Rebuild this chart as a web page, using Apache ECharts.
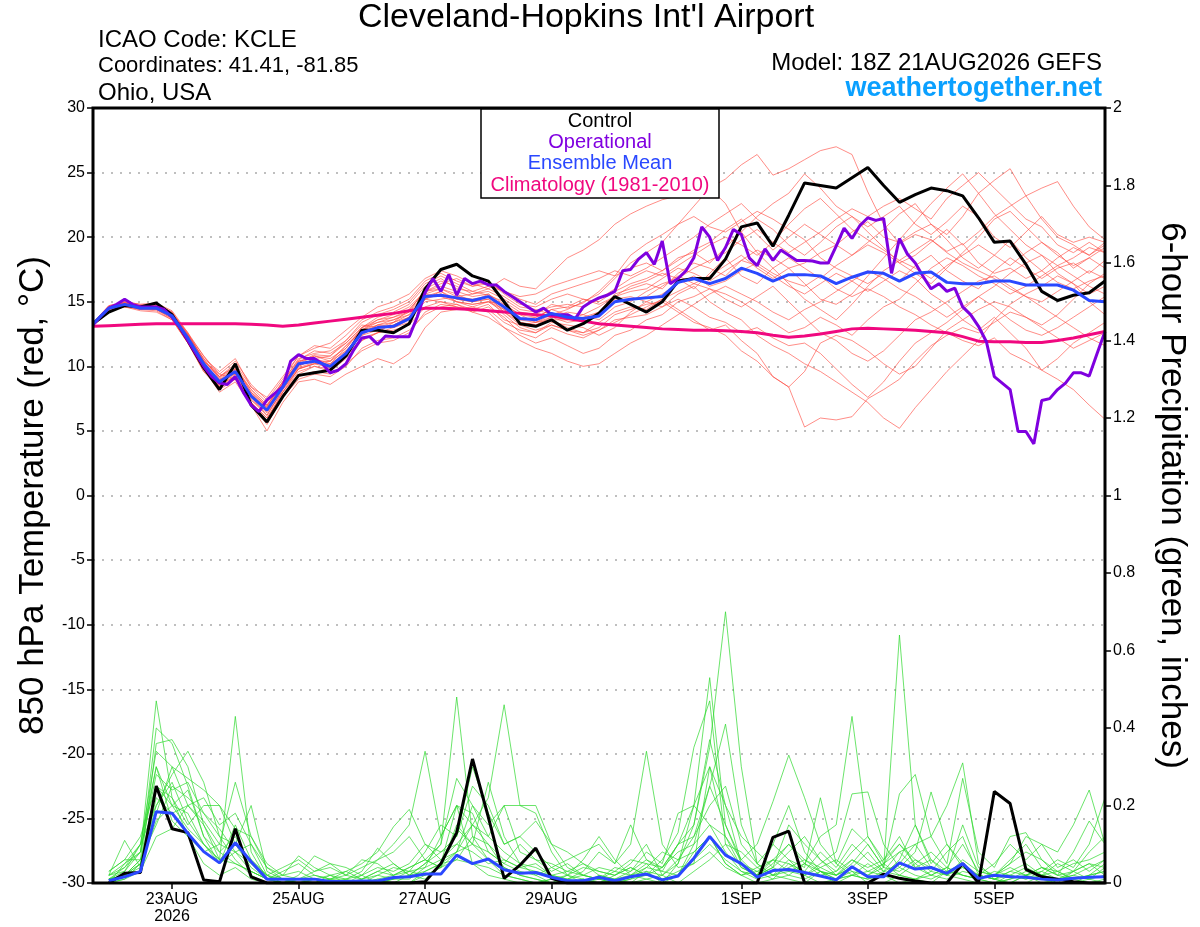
<!DOCTYPE html>
<html><head><meta charset="utf-8">
<script src="https://cdn.jsdelivr.net/npm/echarts@6/dist/echarts.min.js"></script>
<style>html,body{margin:0;padding:0;background:#fff;overflow:hidden}#c{width:1200px;height:927px}</style>
</head><body><div id="c"></div>
<script>
// x axis: forecast hour from 18Z 21AUG2026 (0..384)
const tickHours = [30, 78, 126, 174, 246, 294, 342];
const tickLabels = ['23AUG\n2026', '25AUG', '27AUG', '29AUG', '1SEP', '3SEP', '5SEP'];

// 6-hourly temperatures (hour 0..384)
const controlTemp = [13.3,14.2,14.7,14.6,14.9,14.0,12.0,9.9,8.2,10.2,7.0,5.7,7.65,9.3,9.5,9.7,10.8,12.8,12.8,12.6,13.3,16.0,17.5,17.9,17.0,16.6,15.0,13.3,13.1,13.6,12.8,13.3,14.1,15.4,14.8,14.2,15.0,16.6,16.8,16.8,18.3,20.8,21.1,19.3,21.7,24.2,24.0,23.8,24.6,25.4,24.0,22.7,23.3,23.8,23.6,23.2,21.5,19.6,19.7,17.9,15.8,15.1,15.5,15.7,16.6];
const meanTemp = [13.3,14.5,14.8,14.5,14.5,13.9,12.2,10.2,8.8,9.6,7.7,6.6,8.4,10.2,10.4,10.0,11.0,12.6,13.0,13.1,13.7,15.4,15.5,15.3,15.1,15.4,14.6,13.7,13.6,14.1,13.8,13.7,13.9,15.0,15.2,15.3,15.4,16.5,16.8,16.4,16.8,17.6,17.2,16.6,17.1,17.1,17.0,16.4,16.9,17.3,17.2,16.6,17.2,17.3,16.5,16.4,16.4,16.6,16.6,16.3,16.3,16.3,15.9,15.1,15.0];
const climoTemp = [13.1,13.15,13.2,13.25,13.3,13.3,13.3,13.3,13.3,13.3,13.25,13.2,13.1,13.2,13.35,13.5,13.65,13.8,13.95,14.1,14.3,14.5,14.5,14.45,14.4,14.3,14.2,14.1,14.0,13.9,13.7,13.5,13.3,13.2,13.1,13.0,12.9,12.85,12.8,12.8,12.75,12.7,12.6,12.4,12.25,12.35,12.5,12.7,12.9,12.95,12.9,12.85,12.8,12.7,12.6,12.3,11.95,11.9,11.9,11.85,11.85,12.0,12.2,12.45,12.7];
// 3-hourly operational temperature (hour 0..384)
const operTemp = [13.2,13.9,14.5,14.8,15.2,14.8,14.6,14.6,14.6,14.4,13.8,13.0,12.0,11.0,10.0,9.2,8.7,8.6,9.2,8.0,7.0,6.5,7.4,7.9,8.4,10.4,10.9,10.6,10.6,10.2,9.5,9.7,10.2,11.3,12.2,12.3,11.7,12.35,12.3,12.3,12.3,13.8,15.7,16.8,15.8,17.1,15.5,16.8,16.4,16.6,16.3,16.3,15.8,15.4,15.0,14.6,14.2,14.5,14.0,14.0,14.0,13.7,14.6,15.0,15.3,15.5,15.8,17.4,17.5,18.3,18.8,17.9,19.7,16.4,16.8,17.4,18.4,20.8,20.0,18.2,19.2,20.6,20.2,18.4,17.8,19.1,18.2,19.0,18.6,18.2,18.2,18.15,18.0,18.0,19.3,20.7,19.9,20.9,21.5,21.3,21.45,17.2,19.9,18.7,18.0,16.95,16.0,16.4,15.8,16.05,14.6,14.0,13.1,11.9,9.2,8.7,8.2,4.95,4.95,4.0,7.35,7.5,8.2,8.7,9.5,9.5,9.25,11.0,12.7];

// ensemble member temperatures (6-hourly, hour 0..384)
const memT01 = [13.4,14.6,14.9,14.7,14.8,14.2,12.5,10.8,9.2,10.0,8.0,6.9,8.8,10.5,11.2,11.0,11.8,13.0,13.8,14.2,14.8,16.2,16.8,16.0,15.8,15.5,15.0,14.2,14.0,14.8,14.5,14.9,15.8,17.0,18.6,19.5,20.2,21.0,22.4,23.8,24.5,25.6,26.4,24.8,25.3,26.0,26.7,27.0,26.4,23.5,21.0,19.5,20.2,19.8,18.9,19.5,18.0,17.2,17.6,16.8,17.4,16.5,16.0,16.6,17.0];
const memT02 = [13.2,14.3,14.6,14.4,14.3,13.6,11.8,9.8,8.0,8.8,7.0,5.5,7.6,9.0,9.4,9.2,10.0,11.4,12.0,12.2,12.8,14.0,14.6,14.8,14.2,14.6,13.8,12.6,12.2,13.0,12.5,12.2,12.8,13.4,14.0,14.6,15.2,14.4,13.6,12.8,13.2,12.0,11.0,9.2,8.4,5.3,6.0,5.85,6.1,7.5,8.2,9.0,10.4,11.6,12.4,13.0,12.6,13.4,14.2,13.8,13.0,12.2,11.4,12.0,12.6];
const memT03 = [13.3,14.7,15.0,14.6,14.6,13.8,12.0,10.4,9.4,9.0,7.6,6.2,8.2,9.8,10.2,10.4,11.6,12.8,13.4,13.6,14.0,15.6,16.0,15.6,15.0,15.2,14.0,13.0,12.6,13.4,13.2,13.0,12.4,13.0,14.2,15.0,14.6,15.6,16.2,15.0,14.2,13.6,12.4,11.6,11.0,10.2,9.6,8.8,8.0,7.2,6.0,5.2,6.8,8.2,9.6,10.8,12.0,13.6,14.8,15.6,16.2,17.0,16.4,15.0,14.0];
const memT04 = [13.2,14.4,14.7,14.5,14.4,14.0,12.4,10.6,9.0,9.8,8.2,7.0,8.6,10.4,10.8,10.4,11.2,12.4,12.8,13.2,13.8,15.0,15.2,15.4,15.6,16.0,15.4,14.6,14.4,14.0,13.6,13.8,14.2,15.6,16.0,16.4,16.0,17.2,18.0,17.6,17.0,18.2,19.0,18.4,17.6,18.0,18.8,19.4,18.6,19.6,20.6,21.8,22.6,21.0,20.2,21.6,23.4,24.4,25.3,23.2,21.4,20.0,19.4,18.6,19.6];
const memT05 = [13.4,14.5,14.8,14.6,14.5,13.9,12.2,10.0,8.6,9.4,7.4,6.4,8.0,9.6,10.0,9.8,10.8,12.2,12.6,13.0,13.4,15.2,15.8,15.0,14.6,15.0,14.8,14.0,13.4,13.8,14.2,14.0,13.6,14.6,15.0,15.8,16.4,16.8,16.0,17.2,18.4,17.0,16.4,17.6,18.4,17.6,16.8,17.8,18.6,19.4,18.8,18.0,18.6,19.6,20.6,19.4,20.4,21.6,22.4,23.2,23.8,24.3,22.4,20.8,19.8];
const memT06 = [13.3,14.6,14.9,14.6,14.7,14.0,12.0,10.2,8.8,9.6,7.8,6.8,8.4,10.0,10.6,10.0,11.0,12.6,13.2,13.0,13.6,15.4,15.6,15.2,15.0,15.6,14.6,13.6,13.8,14.4,14.0,13.4,14.0,15.2,15.4,15.0,15.6,16.4,17.0,16.2,16.6,17.4,18.0,17.2,16.6,16.2,17.0,16.0,15.4,16.0,15.4,14.6,14.0,13.2,12.6,12.0,11.6,12.2,11.0,10.4,9.7,9.0,8.2,7.0,5.9];
const memT07 = [13.2,14.5,15.0,14.8,14.9,14.3,12.6,10.4,8.4,9.2,7.2,5.8,8.0,9.4,10.0,9.6,10.6,12.0,12.6,13.4,14.4,15.8,16.4,16.8,16.2,16.4,15.8,15.4,15.6,16.2,16.6,17.0,17.4,17.0,17.6,18.0,17.4,18.2,19.0,19.6,20.6,21.4,20.2,19.0,20.0,21.0,20.2,19.4,20.4,21.2,20.0,19.6,20.4,21.0,19.8,18.4,17.6,18.6,19.8,18.4,17.4,18.4,19.2,18.6,19.4];
const memT08 = [13.3,14.4,14.6,14.3,14.2,13.6,11.8,9.6,8.2,9.0,7.0,5.0,7.2,8.8,9.0,8.6,9.4,10.0,10.6,10.2,11.0,13.0,14.2,14.4,14.6,14.2,13.0,12.4,11.8,12.2,11.6,11.0,11.4,12.4,12.8,13.6,14.0,15.0,15.4,16.0,15.6,15.0,14.2,13.4,12.6,13.0,13.8,13.2,12.4,13.6,14.6,15.2,16.4,17.6,18.4,17.8,17.0,16.4,15.6,16.2,17.0,17.8,18.4,19.2,18.8];
const memT09 = [13.3,14.6,14.8,14.5,14.5,13.8,12.2,10.0,8.8,9.8,7.8,6.6,8.6,10.4,10.6,10.2,11.4,13.0,13.6,13.8,14.2,15.6,15.4,15.0,14.8,15.0,14.4,13.6,13.4,14.0,14.4,15.0,15.6,16.8,18.0,18.8,19.6,21.0,21.6,20.8,20.4,21.2,22.0,21.4,20.6,19.8,18.4,17.6,17.0,16.4,17.2,16.6,17.8,18.6,17.4,16.6,16.0,17.4,18.4,17.6,16.8,17.6,18.0,17.2,18.2];
const memT10 = [13.4,14.5,14.7,14.4,14.6,14.1,12.4,10.2,9.0,9.4,7.6,6.6,8.4,10.0,10.6,10.8,12.0,13.2,13.0,13.4,13.8,15.2,15.0,14.6,14.4,14.8,13.6,13.2,13.4,13.6,13.0,12.6,13.0,14.0,14.4,14.8,15.0,14.2,13.4,13.0,12.4,11.2,10.4,9.2,8.4,9.6,11.8,12.4,12.0,11.2,10.2,9.4,10.0,11.4,12.8,13.6,14.4,15.0,14.6,13.8,13.2,14.0,15.2,16.4,17.2];
const memT11 = [13.2,14.6,15.0,14.8,14.8,14.2,12.4,10.6,9.6,10.6,8.4,7.6,9.2,10.8,11.6,11.4,12.4,13.6,14.2,14.6,15.2,16.6,17.2,16.6,16.2,16.6,15.6,14.8,14.6,15.2,15.6,15.2,15.0,15.8,16.4,16.8,17.4,18.4,18.8,18.0,19.2,20.4,21.6,22.6,23.4,24.9,23.8,22.4,21.6,20.8,21.6,22.4,21.0,20.2,21.2,22.4,21.6,20.0,19.2,20.4,21.6,20.2,19.6,20.0,19.6];
const memT12 = [13.3,14.5,14.8,14.5,14.4,13.7,11.8,9.6,8.6,9.2,7.2,6.0,8.0,9.8,10.2,10.2,11.0,12.4,13.2,13.4,14.0,15.4,15.8,15.2,15.0,15.2,14.4,13.4,13.2,13.8,13.4,13.6,14.2,15.0,15.2,15.4,16.2,17.0,16.4,17.0,17.8,18.6,17.6,16.8,17.6,16.4,15.2,14.8,15.6,17.0,18.4,19.8,21.2,22.6,23.8,24.9,23.4,21.8,20.6,19.4,18.6,17.2,16.4,15.6,16.2];
const memT13 = [13.4,14.7,14.9,14.6,14.7,14.0,12.2,10.4,9.2,10.2,8.4,7.2,8.8,10.2,10.8,10.6,11.4,12.8,13.6,14.0,14.6,15.8,16.0,15.4,15.2,15.4,14.2,13.2,12.8,13.2,12.8,12.4,12.8,13.6,13.8,14.0,14.6,15.2,14.6,13.8,13.4,12.6,13.0,12.2,11.6,11.8,11.0,9.8,8.6,7.6,8.8,10.4,11.8,12.6,13.4,14.4,15.4,14.6,13.6,12.8,12.4,13.0,13.8,14.6,15.4];
const memT14 = [13.3,14.5,14.9,14.7,14.6,14.0,12.3,10.1,8.9,9.7,7.9,6.8,8.6,10.2,10.4,10.4,11.6,12.8,13.2,13.6,14.2,16.0,16.6,16.2,15.6,15.8,15.2,14.4,14.2,14.6,14.8,14.6,15.2,16.0,16.8,17.4,17.0,17.8,18.6,19.4,20.0,19.4,18.6,19.6,21.0,22.2,23.0,21.8,20.6,19.8,19.0,18.2,19.0,19.8,18.8,18.0,17.4,16.8,16.0,15.4,15.0,15.8,16.6,17.4,16.8];
const memT15 = [13.3,14.6,14.9,14.6,14.6,14.1,12.6,10.8,9.4,10.4,8.6,7.4,9.0,10.8,11.4,11.8,12.8,13.8,14.6,15.0,15.6,16.8,17.4,17.0,16.4,16.0,16.8,16.2,16.0,17.2,18.4,19.0,19.8,21.0,21.8,22.4,22.9,23.2,23.6,23.8,22.6,20.4,18.8,17.6,16.4,15.2,14.4,13.6,14.8,16.2,17.4,18.2,17.6,16.8,17.8,18.6,19.4,18.6,17.8,18.8,19.6,18.8,17.6,18.4,19.2];
const memT16 = [13.2,14.4,14.7,14.4,14.4,13.7,11.9,9.8,8.4,9.0,7.2,6.0,7.8,9.2,9.6,9.4,10.2,11.2,11.8,12.0,12.6,14.2,14.8,14.6,14.2,13.8,13.0,12.0,11.4,11.0,10.4,10.0,10.2,11.0,11.8,12.4,13.2,14.0,14.8,15.6,16.2,15.6,15.0,14.2,13.6,14.4,15.0,15.8,16.6,17.4,16.8,16.0,15.4,14.6,13.8,14.6,15.4,16.2,17.2,18.0,18.6,17.8,17.0,16.2,15.6];
const memT17 = [13.3,14.6,14.8,14.6,14.6,14.0,12.4,10.4,9.2,10.0,8.2,7.0,8.8,10.6,11.0,11.2,12.0,13.4,14.0,14.4,15.0,16.4,17.0,16.4,15.8,16.2,15.8,15.2,14.8,15.6,16.0,16.4,16.8,17.4,17.0,17.6,18.4,19.2,20.0,21.0,21.8,22.6,21.4,20.6,19.4,18.6,19.6,20.8,21.6,20.4,19.2,18.0,17.2,16.4,17.6,18.8,20.0,21.4,22.0,20.8,19.6,18.6,17.8,18.4,17.6];
const memT18 = [13.3,14.5,14.8,14.5,14.5,13.8,12.0,9.9,8.5,9.3,7.4,6.2,8.2,9.8,10.2,9.9,10.8,12.0,12.6,12.8,13.2,14.6,15.0,14.8,14.4,14.4,13.4,12.8,12.6,13.2,12.8,12.6,13.4,14.2,14.6,14.4,15.2,15.8,16.4,16.0,15.2,14.6,15.4,16.2,15.0,13.8,12.6,12.0,11.0,10.4,11.2,12.4,13.6,14.2,15.0,15.8,16.6,17.0,16.2,15.4,14.6,13.8,13.0,12.2,11.6];
const memT19 = [13.4,14.6,14.9,14.7,14.7,14.1,12.5,10.5,9.1,9.9,8.0,6.9,8.7,10.3,10.9,10.8,11.8,13.0,13.4,13.8,14.4,15.8,16.2,15.8,15.4,15.6,14.8,14.0,13.8,14.4,14.6,15.2,14.8,15.4,16.2,16.6,17.2,16.8,17.6,18.2,18.8,19.8,20.6,19.6,18.8,19.6,20.4,21.4,22.2,21.6,22.4,23.0,22.2,21.4,23.0,24.0,25.0,23.8,22.6,21.4,20.8,19.4,18.8,19.6,18.8];
const memT20 = [13.2,14.5,14.8,14.5,14.5,13.9,12.1,10.0,8.7,9.5,7.6,6.5,8.3,9.9,10.3,10.1,11.2,12.6,13.0,13.2,13.8,15.2,15.6,15.0,14.8,15.0,14.2,13.4,13.2,13.6,13.6,14.0,14.6,15.4,15.8,16.0,16.8,17.6,17.2,16.6,17.4,18.2,17.8,17.0,16.2,15.6,16.4,17.2,16.6,15.8,16.6,17.4,16.8,15.6,14.8,13.6,12.8,13.8,12.6,11.4,9.7,10.6,11.8,12.6,13.4];

// 6-hour precipitation (inches), hours 6..384
const controlPrecip = [0.0,0.025,0.027,0.25,0.14,0.13,0.008,0.003,0.14,0.016,0,0,0,0,0,0,0,0,0,0,0.003,0.05,0.13,0.32,0.17,0.012,0.046,0.09,0.012,0,0,0,0,0,0,0,0,0,0,0,0,0,0.118,0.134,0,0,0,0,0,0.023,0.012,0.005,0,0,0.05,0,0.236,0.205,0.035,0.016,0.01,0.003,0,0];
const meanPrecip = [0.006,0.016,0.03,0.184,0.18,0.128,0.081,0.052,0.104,0.055,0.01,0.01,0.01,0.01,0.004,0.004,0.005,0.005,0.014,0.016,0.023,0.023,0.072,0.05,0.062,0.034,0.025,0.027,0.015,0.006,0.006,0.015,0.006,0.016,0.023,0.008,0.018,0.064,0.12,0.072,0.05,0.015,0.032,0.035,0.027,0.018,0.008,0.042,0.016,0.016,0.052,0.036,0.04,0.025,0.05,0.012,0.02,0.016,0.015,0.01,0.008,0.012,0.015,0.016];
const memP01 = [0.01,0.03,0.08,0.47,0.22,0.12,0.05,0.02, 0.04,0.01,0,0,0.01,0,0,0, 0,0.01,0.02,0.04,0.06,0.1,0.48,0.12, 0.06,0.02,0.01,0,0,0,0.01,0, 0,0.02,0.05,0.01,0.02,0.08,0.12,0.05, 0.02,0,0.01,0.05,0.02,0,0.01,0.03, 0,0,0.02,0.01,0,0.03,0.05,0, 0,0.01,0.03,0.02,0,0,0.01,0.02];
const memP02 = [0,0.02,0.06,0.40,0.36,0.25,0.12,0.05, 0.08,0.03,0.01,0,0,0,0.02,0, 0,0,0,0,0.03,0.05,0.08,0.15, 0.1,0.04,0.02,0.01,0,0,0,0.02, 0.01,0,0.03,0,0.05,0.15,0.35,0.70, 0.30,0.05,0.02,0.01,0,0.03,0,0.02, 0.05,0.02,0,0.01,0.03,0.02,0.01,0, 0,0,0.02,0.01,0,0.03,0.05,0.02];
const memP03 = [0.02,0.05,0.1,0.3,0.2,0.18,0.1,0.06, 0.43,0.08,0.01,0,0,0.01,0,0, 0,0,0.01,0.02,0.05,0.08,0.1,0.15, 0.22,0.46,0.2,0.18,0.08,0.02,0,0.01, 0,0,0.01,0.02,0,0.03,0.06,0.1, 0.04,0.02,0.05,0.1,0.06,0.03,0.02,0.05, 0.1,0.04,0.64,0.15,0.06,0.02,0.05,0.01, 0,0.02,0.04,0.02,0.01,0,0.02,0.03];
const memP04 = [0,0.01,0.05,0.2,0.28,0.34,0.26,0.12, 0.06,0.02,0,0,0,0,0.01,0.02, 0.04,0.06,0.1,0.15,0.34,0.12,0.2,0.05, 0.02,0.01,0,0,0.01,0.02,0.04,0.03, 0.02,0.05,0.1,0.02,0.05,0.2,0.53,0.15, 0.05,0.02,0.1,0.2,0.08,0.03,0.01,0.02, 0.03,0.05,0.08,0.04,0.02,0.01,0.03,0.02, 0.01,0,0,0.02,0.05,0.03,0.01,0];
const memP05 = [0.03,0.06,0.12,0.25,0.22,0.15,0.2,0.2, 0.1,0.2,0.03,0.01,0,0,0,0.01, 0.02,0,0,0,0.02,0.04,0.15,0.1, 0.26,0.12,0.05,0.02,0,0.01,0.02,0.01, 0,0.01,0.02,0.04,0.1,0.12,0.2,0.25, 0.1,0.05,0.02,0.03,0.05,0.12,0.15,0.43, 0.12,0.05,0.02,0.01,0.02,0.04,0.02,0.01, 0.02,0.05,0.12,0.1,0.08,0.15,0.24,0.1];
const memP06 = [0.01,0.04,0.1,0.34,0.3,0.2,0.15,0.08, 0.12,0.05,0.02,0,0.02,0.07,0.05,0.02, 0.01,0.03,0.05,0.02,0.05,0.1,0.27,0.2, 0.12,0.08,0.05,0.04,0.02,0.01,0.03,0.08, 0.05,0.1,0.34,0.1,0.04,0.05,0.3,0.12, 0.06,0.1,0.21,0.33,0.22,0.1,0.05,0.02, 0.01,0.03,0.05,0.1,0.12,0.2,0.31,0.05, 0.01,0,0.02,0.04,0.03,0.01,0,0.01];
const memP07 = [0.02,0.11,0.04,0.22,0.18,0.2,0.22,0.15, 0.18,0.1,0.04,0.01,0,0,0.01,0.03, 0.05,0.08,0.145,0.19,0.1,0.06,0.08,0.2, 0.15,0.2,0.2,0.2,0.1,0.04,0.02,0.01, 0.03,0.02,0.01,0,0.02,0.1,0.25,0.41, 0.15,0.05,0.1,0.06,0.02,0.05,0.08,0.23, 0.235,0.1,0.04,0.08,0.235,0.1,0.05,0.02, 0.01,0.02,0.01,0.03,0.06,0.04,0.1,0.22];
const memP08 = [0.01,0.02,0.06,0.15,0.25,0.22,0.18,0.14, 0.08,0.05,0.01,0.03,0.05,0.02,0.01,0.01, 0,0.02,0.01,0.03,0.08,0.15,0.12,0.3, 0.18,0.1,0.12,0.16,0.1,0.08,0.05,0.03, 0.02,0.04,0.02,0.06,0.13,0.35,0.47,0.1, 0.08,0.04,0.02,0.06,0.04,0.22,0.05,0.14, 0.1,0.04,0.23,0.28,0.12,0.05,0.27,0.08, 0.04,0.12,0.13,0.06,0.02,0.01,0.02,0.05];
const memP09 = [0,0.05,0.08,0.3,0.16,0.12,0.08,0.1, 0.26,0.12,0.05,0.02,0.07,0.04,0.02,0.01, 0.03,0.09,0.05,0.02,0.01,0.05,0.2,0.18, 0.08,0.05,0.03,0.02,0.04,0.06,0.08,0.1, 0.05,0.15,0.06,0.03,0.1,0.15,0.37,0.2, 0.05,0.03,0.06,0.1,0.05,0.02,0.03,0.06, 0.03,0.02,0.06,0.15,0.05,0.1,0.04,0.02, 0.05,0.1,0.06,0.1,0.04,0.06,0.03,0.06];
const memP10 = [0.02,0.03,0.1,0.2,0.26,0.16,0.1,0.05, 0.15,0.06,0.02,0,0,0.01,0,0, 0.02,0.04,0.03,0.05,0.1,0.08,0.12,0.25, 0.2,0.1,0.12,0.08,0.04,0.02,0.01,0, 0.01,0.03,0.08,0.05,0.18,0.2,0.3,0.2, 0.12,0.08,0.04,0.02,0.01,0.03,0.02,0.06, 0.04,0.06,0.12,0.04,0.06,0.03,0.15,0.04, 0.02,0.04,0.02,0,0.01,0.03,0.08,0.12];
const memP11 = [0.01,0.02,0.04,0.36,0.37,0.3,0.15,0.06, 0.1,0.04,0.01,0,0,0,0,0, 0,0,0.01,0.01,0.04,0.06,0.1,0.08, 0.05,0.06,0.04,0.03,0.02,0.01,0,0, 0,0.01,0.04,0.08,0.06,0.12,0.25,0.15, 0.06,0.02,0.04,0.15,0.1,0.06,0.02,0.04, 0.02,0.05,0.1,0.06,0.03,0.08,0.12,0.02, 0.01,0.03,0.05,0.02,0.01,0.02,0.04,0.06];
const memP12 = [0.03,0.06,0.06,0.18,0.3,0.27,0.24,0.2, 0.14,0.12,0.04,0.02,0.01,0.03,0.04,0.02, 0.06,0.05,0.02,0.03,0.04,0.12,0.2,0.15, 0.12,0.2,0.08,0.06,0.05,0.03,0.02,0.04, 0.03,0.06,0.05,0.04,0.08,0.1,0.15,0.12, 0.04,0.02,0.06,0.05,0.03,0.08,0.04,0.1, 0.06,0.03,0.08,0.1,0.04,0.02,0.06,0.03, 0.02,0.06,0.1,0.04,0.02,0.08,0.16,0.1];
const memP13 = [0.01,0.02,0.05,0.25,0.2,0.24,0.12,0.08, 0.05,0.03,0.01,0,0.01,0.02,0.01,0, 0.01,0.03,0.02,0.04,0.06,0.04,0.08,0.1, 0.06,0.04,0.02,0.01,0,0.02,0.06,0.12, 0.06,0.02,0.04,0.03,0.02,0.06,0.1,0.06, 0.03,0.01,0.02,0.04,0.06,0.04,0.02,0.04, 0.08,0.03,0.02,0.05,0.02,0.04,0.02,0.01, 0.03,0.02,0.01,0.02,0.03,0.01,0.02,0.03];
const memP14 = [0,0.01,0.03,0.12,0.14,0.2,0.16,0.1, 0.08,0.1,0.02,0.01,0,0,0,0, 0,0.01,0,0.02,0.03,0.05,0.06,0.05, 0.04,0.02,0.01,0,0.01,0,0.01,0, 0.02,0.04,0.02,0.01,0.03,0.05,0.08,0.04, 0.02,0.03,0.01,0.02,0.05,0.03,0.01,0.02, 0.01,0.02,0.04,0.02,0.01,0.03,0.02,0.01, 0,0.01,0.02,0.03,0.01,0.02,0.01,0.04];
const memP15 = [0.02,0.04,0.08,0.28,0.24,0.26,0.18,0.12, 0.1,0.06,0.02,0.04,0.06,0.03,0.05,0.04, 0.02,0.06,0.08,0.12,0.06,0.04,0.14,0.1, 0.08,0.05,0.1,0.06,0.03,0.05,0.02,0.01, 0.04,0.03,0.06,0.04,0.1,0.2,0.15,0.08, 0.03,0.02,0.04,0.08,0.12,0.06,0.03,0.08, 0.12,0.06,0.1,0.05,0.08,0.04,0.1,0.03, 0.02,0.05,0.08,0.06,0.03,0.05,0.06,0.08];
const memP16 = [0,0.02,0.05,0.16,0.2,0.14,0.1,0.06, 0.05,0.03,0.01,0.02,0.03,0.01,0.02,0.03, 0.01,0.02,0.04,0.03,0.02,0.04,0.06,0.12, 0.1,0.06,0.04,0.05,0.02,0.03,0.05,0.02, 0.01,0.02,0.03,0.02,0.06,0.08,0.12,0.05, 0.02,0.04,0.06,0.03,0.02,0.04,0.06,0.03, 0.02,0.04,0.03,0.06,0.04,0.02,0.04,0.02, 0.01,0.03,0.02,0.04,0.02,0.03,0.05,0.04];

const tempMembers = [memT01,memT02,memT03,memT04,memT05,memT06,memT07,memT08,memT09,memT10,memT11,memT12,memT13,memT14,memT15,memT16,memT17,memT18,memT19,memT20];
const precipMembers = [memP01,memP02,memP03,memP04,memP05,memP06,memP07,memP08,memP09,memP10,memP11,memP12,memP13,memP14,memP15,memP16];

function pairs(arr, startHour, step) {
  return arr.map((v, k) => [startHour + k * step, v]);
}

const FONT = 'Liberation Sans, Arial, Helvetica, sans-serif';
const series = [];
tempMembers.forEach(m => series.push({
  type: 'line', yAxisIndex: 0, data: pairs(m, 0, 6), symbol: 'none', silent: true,
  lineStyle: { color: '#ff4a40', width: 0.7, opacity: 0.9 }, z: 2
}));
precipMembers.forEach(m => series.push({
  type: 'line', yAxisIndex: 1, data: pairs(m, 6, 6), symbol: 'none', silent: true,
  lineStyle: { color: '#2bd82b', width: 0.7 }, z: 2
}));
series.push({ type: 'line', yAxisIndex: 0, data: pairs(climoTemp, 0, 6), symbol: 'none',
  lineStyle: { color: '#f0087f', width: 3 }, z: 3 });
series.push({ type: 'line', yAxisIndex: 0, data: pairs(controlTemp, 0, 6), symbol: 'none',
  lineStyle: { color: '#000000', width: 3 }, z: 4 });
series.push({ type: 'line', yAxisIndex: 1, data: pairs(controlPrecip, 6, 6), symbol: 'none',
  lineStyle: { color: '#000000', width: 3 }, z: 4 });
series.push({ type: 'line', yAxisIndex: 0, data: pairs(operTemp, 0, 3), symbol: 'none',
  lineStyle: { color: '#7f00df', width: 3 }, z: 5 });
series.push({ type: 'line', yAxisIndex: 0, data: pairs(meanTemp, 0, 6), symbol: 'none',
  lineStyle: { color: '#2a48ff', width: 3 }, z: 6 });
series.push({ type: 'line', yAxisIndex: 1, data: pairs(meanPrecip, 6, 6), symbol: 'none',
  lineStyle: { color: '#2a48ff', width: 3 }, z: 6 });

const chart = echarts.init(document.getElementById('c'), null, { renderer: 'canvas' });
chart.setOption({
  animation: false,
  backgroundColor: '#ffffff',
  textStyle: { fontFamily: FONT },
  grid: { left: 93, right: 95, top: 108, bottom: 44, outerBoundsMode: 'none', containLabel: false },
  xAxis: {
    type: 'value', min: 0, max: 384,
    axisLine: { show: false, onZero: false },
    splitLine: { show: false },
    axisTick: { show: true, customValues: tickHours, length: 6, inside: false, lineStyle: { color: '#000', width: 1.5 } },
    axisLabel: {
      customValues: tickHours, color: '#000', fontSize: 16, fontFamily: FONT, margin: 8, lineHeight: 17,
      formatter: v => { const i = tickHours.indexOf(v); return i >= 0 ? tickLabels[i] : ''; }
    }
  },
  yAxis: [
    {
      type: 'value', min: -30, max: 30, interval: 5, position: 'left',
      name: '850 hPa Temperature (red, °C)', nameLocation: 'middle', nameRotate: 90, nameGap: 42,
      nameTextStyle: { fontSize: 35, color: '#000', fontFamily: FONT },
      axisLine: { show: false, onZero: false },
      axisTick: { show: true, length: 6, lineStyle: { color: '#000', width: 1.5 } },
      axisLabel: { color: '#000', fontSize: 16, fontFamily: FONT, margin: 8 },
      splitLine: { show: true, showMinLine: false, showMaxLine: false, lineStyle: { color: '#aaaaaa', width: 1.5, type: [2, 7] } }
    },
    {
      type: 'value', min: 0, max: 2, interval: 0.2, position: 'right',
      name: '6-hour Precipitation (green, inches)', nameLocation: 'middle', nameRotate: -90, nameGap: 49,
      nameTextStyle: { fontSize: 35, color: '#000', fontFamily: FONT },
      axisLine: { show: false, onZero: false },
      axisTick: { show: true, length: 6, lineStyle: { color: '#000', width: 1.5 } },
      axisLabel: { color: '#000', fontSize: 16, fontFamily: FONT, margin: 8,
        formatter: v => String(Math.round(v * 10) / 10) },
      splitLine: { show: false }
    }
  ],
  series: series,
  graphic: [
    { type: 'rect', shape: { x: 93, y: 108, width: 1012, height: 775 }, style: { fill: 'none', stroke: '#000', lineWidth: 3 }, z: 90 },
    { type: 'text', x: 586, y: 18, style: { text: "Cleveland-Hopkins Int'l Airport", font: '34px ' + FONT, fill: '#000', textAlign: 'center', textVerticalAlign: 'middle' } },
    { type: 'text', x: 98, y: 40, style: { text: 'ICAO Code: KCLE', font: '24px ' + FONT, fill: '#000', textVerticalAlign: 'middle' } },
    { type: 'text', x: 98, y: 66, style: { text: 'Coordinates: 41.41, -81.85', font: '22px ' + FONT, fill: '#000', textVerticalAlign: 'middle' } },
    { type: 'text', x: 98, y: 93, style: { text: 'Ohio, USA', font: '24px ' + FONT, fill: '#000', textVerticalAlign: 'middle' } },
    { type: 'text', x: 1102, y: 63, style: { text: 'Model: 18Z 21AUG2026 GEFS', font: '24px ' + FONT, fill: '#000', textAlign: 'right', textVerticalAlign: 'middle' } },
    { type: 'text', x: 1102, y: 89, style: { text: 'weathertogether.net', font: 'bold 27px ' + FONT, fill: '#0aa0ff', textAlign: 'right', textVerticalAlign: 'middle' } },
    { type: 'rect', shape: { x: 481, y: 109, width: 238, height: 89 }, style: { fill: '#fff', stroke: '#000', lineWidth: 1.5 }, z: 100 },
    { type: 'text', x: 600, y: 121, style: { text: 'Control', font: '20px ' + FONT, fill: '#000', textAlign: 'center', textVerticalAlign: 'middle' }, z: 101 },
    { type: 'text', x: 600, y: 142, style: { text: 'Operational', font: '20px ' + FONT, fill: '#8000e0', textAlign: 'center', textVerticalAlign: 'middle' }, z: 101 },
    { type: 'text', x: 600, y: 163, style: { text: 'Ensemble Mean', font: '20px ' + FONT, fill: '#2a48ff', textAlign: 'center', textVerticalAlign: 'middle' }, z: 101 },
    { type: 'text', x: 600, y: 185, style: { text: 'Climatology (1981-2010)', font: '20px ' + FONT, fill: '#f0087f', textAlign: 'center', textVerticalAlign: 'middle' }, z: 101 }
  ]
});
</script>
</body></html>
